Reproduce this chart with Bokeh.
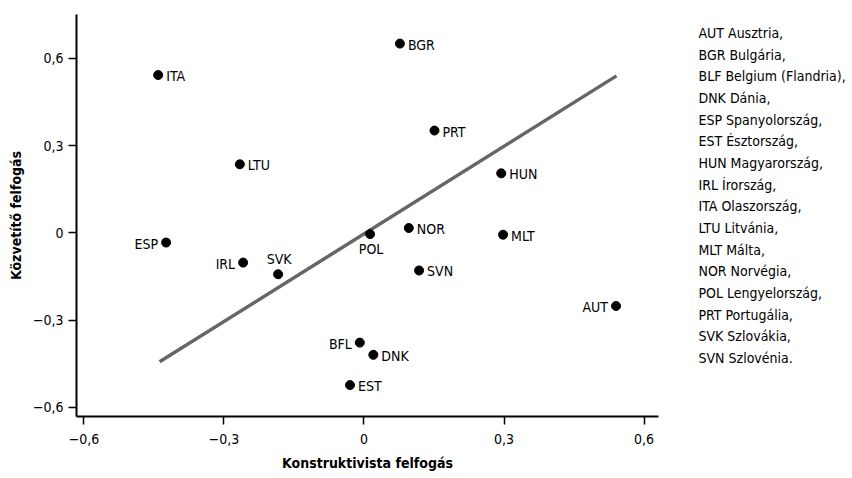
from bokeh.plotting import figure
from bokeh.models import Range1d, FixedTicker, CustomJSTickFormatter, ColumnDataSource
from bokeh.layouts import row
from bokeh.embed import file_html
from bokeh.resources import INLINE
from bokeh.core.properties import value

# ---- data ----
codes = ["AUT", "BGR", "BFL", "DNK", "ESP", "EST", "HUN", "IRL",
         "ITA", "LTU", "MLT", "NOR", "POL", "PRT", "SVK", "SVN"]
konstruktivista = [0.540, 0.077, -0.009, 0.020, -0.424, -0.030, 0.294, -0.259,
                   -0.441, -0.266, 0.298, 0.096, 0.013, 0.151, -0.184, 0.118]
kozvetito = [-0.251, 0.651, -0.377, -0.419, -0.033, -0.523, 0.205, -0.102,
             0.543, 0.236, -0.006, 0.017, -0.004, 0.352, -0.142, -0.129]
fit_x = [-0.438, 0.541]
fit_y = [-0.443, 0.540]
tick_values = [-0.6, -0.3, 0, 0.3, 0.6]
legend_items = ["AUT Ausztria,", "BGR Bulgária,", "BLF Belgium (Flandria),", "DNK Dánia,",
                "ESP Spanyolország,", "EST Észtország,", "HUN Magyarország,", "IRL Írország,",
                "ITA Olaszország,", "LTU Litvánia,", "MLT Málta,", "NOR Norvégia,",
                "POL Lengyelország,", "PRT Portugália,", "SVK Szlovákia,", "SVN Szlovénia."]
x_title = "Konstruktivista felfogás"
y_title = "Közvetítő felfogás"

# label placement (layout only)
label_side = {"AUT": "left", "BFL": "left", "ESP": "left", "IRL": "left",
              "SVK": "above", "POL": "below"}

FONT = "DejaVu Sans Condensed"
FS = "14px"

p = figure(width=690, height=478,
           x_range=Range1d(-0.616, 0.631), y_range=Range1d(-0.631, 0.751),
           toolbar_location=None, output_backend="svg",
           min_border_left=76, min_border_right=32, min_border_top=14, min_border_bottom=62)
p.outline_line_color = None
p.grid.visible = False
p.background_fill_color = "white"
p.border_fill_color = "white"

# regression line
p.line(fit_x, fit_y, line_color="#666666", line_width=3.5)

# points
p.scatter(konstruktivista, kozvetito, size=9, color="black")

# labels
styles = {
    "right": dict(text_align="left", text_baseline="middle", x_offset=8, y_offset=1),
    "left": dict(text_align="right", text_baseline="middle", x_offset=-8, y_offset=1),
    "above": dict(text_align="center", text_baseline="bottom", x_offset=1, y_offset=-7),
    "below": dict(text_align="center", text_baseline="top", x_offset=1, y_offset=7),
}
for side, st in styles.items():
    idx = [i for i, c in enumerate(codes) if label_side.get(c, "right") == side]
    src = ColumnDataSource(dict(x=[konstruktivista[i] for i in idx],
                                y=[kozvetito[i] for i in idx],
                                t=[codes[i] for i in idx]))
    p.text(x="x", y="y", text="t", source=src, text_font=value(FONT),
           text_font_size=FS, text_color="black", **st)

fmt = CustomJSTickFormatter(code="""
if (Math.abs(tick) < 1e-9) return '0';
return (tick < 0 ? '\u2212' : '') + Math.abs(tick).toFixed(1).replace('.', ',');
""")
for ax in (p.xaxis[0], p.yaxis[0]):
    ax.ticker = FixedTicker(ticks=tick_values)
    ax.formatter = fmt
    ax.minor_tick_line_color = None
    ax.major_tick_in = 0
    ax.major_tick_out = 8
    ax.major_tick_line_width = 1.5
    ax.axis_line_width = 2
    ax.axis_line_color = "black"
    ax.major_tick_line_color = "black"
    ax.major_label_text_font = FONT
    ax.major_label_text_font_size = FS
    ax.major_label_text_color = "black"
    ax.axis_label_text_font = FONT
    ax.axis_label_text_font_size = FS
    ax.axis_label_text_font_style = "bold"
    ax.axis_label_text_color = "black"

p.xaxis.axis_label = x_title
p.yaxis.axis_label = y_title
p.xaxis.major_label_standoff = 9
p.yaxis.major_label_standoff = 5
p.xaxis.axis_label_standoff = 8
p.yaxis.axis_label_standoff = 6

# legend text panel (its frame is aligned with the main frame: 14..416 px)
n = len(legend_items)
p2 = figure(width=162, height=478, x_range=Range1d(0, 1), y_range=Range1d(17.70, -0.854),
            toolbar_location=None, output_backend="svg",
            x_axis_location=None, y_axis_location=None,
            min_border_left=0, min_border_right=0, min_border_top=14, min_border_bottom=62)
p2.outline_line_color = None
p2.grid.visible = False
p2.text(x=[0] * n, y=list(range(n)), text=legend_items, x_offset=8,
        text_baseline="middle", text_align="left", text_font=value(FONT),
        text_font_size=FS, text_color="black")

layout = row(p, p2)
open("out.html", "w").write(file_html(layout, INLINE))
